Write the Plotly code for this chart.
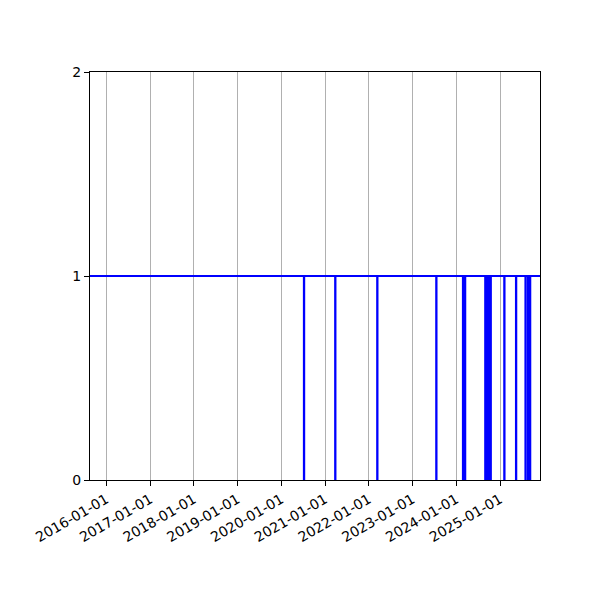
import plotly.graph_objects as go

# Step series: value holds until the next date (step 'hv')
dates = [
    "2015-08-18",
    "2020-07-09", "2020-07-10",
    "2021-03-27", "2021-03-28",
    "2022-03-13", "2022-03-14",
    "2023-07-19", "2023-07-20",
    "2024-02-27", "2024-02-28",
    "2024-03-15", "2024-03-16",
    "2024-08-31", "2024-09-01",
    "2024-09-08", "2024-09-09",
    "2024-09-16", "2024-09-17",
    "2024-09-24", "2024-09-25",
    "2024-10-02", "2024-10-03",
    "2024-10-09", "2024-10-10",
    "2024-10-15", "2024-10-16",
    "2025-02-06", "2025-02-07",
    "2025-05-15", "2025-05-16",
    "2025-08-02", "2025-08-03",
    "2025-08-23", "2025-08-24",
    "2025-09-09", "2025-09-10",
    "2025-12-01",
]
values = [
    1,
    0, 1,
    0, 1,
    0, 1,
    0, 1,
    0, 1,
    0, 1,
    0, 1,
    0, 1,
    0, 1,
    0, 1,
    0, 1,
    0, 1,
    0, 1,
    0, 1,
    0, 1,
    0, 1,
    0, 1,
    0, 1,
    1,
]

tick_dates = ["2016-01-01", "2017-01-01", "2018-01-01", "2019-01-01", "2020-01-01",
              "2021-01-01", "2022-01-01", "2023-01-01", "2024-01-01", "2025-01-01"]
y_ticks = [0, 1, 2]

fig = go.Figure()
fig.add_trace(go.Scatter(
    x=dates, y=values, mode="lines", line_shape="hv",
    line=dict(color="#0000ff", width=2.2), showlegend=False,
))

axis_font = dict(family="DejaVu Sans", size=14, color="black")
fig.update_layout(
    width=600, height=600,
    margin=dict(l=82, r=68, t=64, b=128),
    paper_bgcolor="white", plot_bgcolor="white",
    font=axis_font,
    xaxis=dict(
        range=["2015-08-18", "2025-12-01"],
        tickvals=tick_dates, ticktext=tick_dates,
        tickangle=-30, ticks="outside", ticklen=5, tickwidth=1, tickcolor="black",
        showgrid=True, gridcolor="#b0b0b0", gridwidth=1,
        showline=True, linecolor="black", linewidth=1, mirror=True,
        zeroline=False, tickfont=axis_font,
    ),
    yaxis=dict(
        range=[0, 2], tickvals=y_ticks,
        ticks="outside", ticklen=5, tickwidth=1, tickcolor="black",
        showgrid=False,
        showline=True, linecolor="black", linewidth=1, mirror=True,
        zeroline=False, tickfont=axis_font,
    ),
)

fig.write_html("out.html")
